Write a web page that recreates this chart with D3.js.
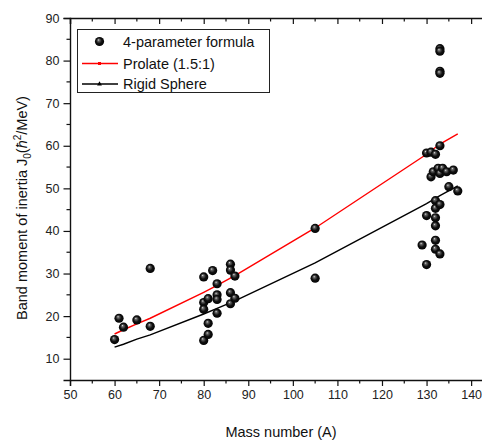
<!DOCTYPE html>
<html>
<head>
<meta charset="utf-8">
<script src="https://cdn.jsdelivr.net/npm/d3@7"></script>
<style>
  body { margin: 0; background: #fff; }
  svg { display: block; font-family: "Liberation Sans", Arial, sans-serif; }
</style>
</head>
<body>
<div class="chart"></div>
<script>
// 4-parameter formula points (mass number A, J0)
const fitA = [60, 61, 62, 65, 68, 68,
    80, 80, 80, 80, 81, 81, 81, 82, 83, 83, 83, 83, 86, 86, 86, 86, 87, 87,
    105, 105,
    129, 130, 130, 130, 131, 131, 131.5, 132, 132.6, 132, 132, 132, 132, 132, 132,
    133, 133, 133, 133, 133, 133, 133, 133, 133.6, 134.5, 135, 136, 137];
const fitJ = [14.5, 19.5, 17.4, 19.1, 31.2, 17.6,
    29.2, 23.2, 21.6, 14.3, 24.1, 18.3, 15.7, 30.7, 27.6, 25.0, 23.9, 20.7, 32.2, 30.8, 25.5, 22.9, 29.4, 24.2,
    40.6, 28.9,
    36.7, 32.1, 43.6, 58.3, 58.5, 52.7, 53.9, 58.0, 54.7, 47.1, 45.3, 43.1, 41.2, 37.8, 35.7,
    34.6, 60.0, 53.5, 46.2, 82.8, 82.2, 77.5, 77.0, 54.7, 53.9, 50.4, 54.3, 49.4];

// model curves
const lineA = [60, 62, 65, 68, 80, 83, 87, 105, 130, 133, 137];
const prolateJ = [15.8, 16.8, 18.2, 19.5, 25.6, 27.2, 29.5, 40.7, 58.0, 60.4, 62.8];
const sphereJ = [12.7, 13.4, 14.6, 15.6, 20.5, 21.8, 23.6, 32.5, 46.4, 48.3, 50.6];

const xTickValues = [50, 60, 70, 80, 90, 100, 110, 120, 130, 140];
const yTickValues = [10, 20, 30, 40, 50, 60, 70, 80, 90];

const w = 482;
const h = 442;

const xScale = d3.scaleLinear().domain([50, 150]).range([70, 515.7]);
const yScale = d3.scaleLinear().domain([5, 90]).range([380, 18]);

const svg = d3.select(".chart").append("svg")
    .attr("width", w)
    .attr("height", h);

const defs = svg.append("defs");
const grad = defs.append("radialGradient")
    .attr("id", "ball")
    .attr("cx", "50%").attr("cy", "50%").attr("r", "55%")
    .attr("fx", "38%").attr("fy", "32%");
grad.append("stop").attr("offset", "0%").attr("stop-color", "#e8e8e8");
grad.append("stop").attr("offset", "18%").attr("stop-color", "#6a6a6a");
grad.append("stop").attr("offset", "55%").attr("stop-color", "#111");
grad.append("stop").attr("offset", "100%").attr("stop-color", "#000");

// axes
const minorX = d3.range(55, 150, 10);
const minorY = d3.range(15, 90, 10);

const bottomAxis = svg.append("g")
    .attr("transform", "translate(0,380)")
    .call(d3.axisBottom(xScale).tickValues(xTickValues).tickSize(6).tickPadding(4).tickFormat(d3.format("d")));
bottomAxis.append("g").selectAll("line").data(minorX).enter().append("line")
    .attr("x1", d => xScale(d)).attr("x2", d => xScale(d))
    .attr("y1", 0).attr("y2", 3.5);

const leftAxis = svg.append("g")
    .attr("transform", "translate(70,0)")
    .call(d3.axisLeft(yScale).tickValues(yTickValues).tickSize(6.5).tickPadding(4).tickFormat(d3.format("d")));
leftAxis.append("g").selectAll("line").data(minorY).enter().append("line")
    .attr("y1", d => yScale(d)).attr("y2", d => yScale(d))
    .attr("x1", 0).attr("x2", -3.5);

const topAxis = svg.append("g")
    .attr("transform", "translate(0,18)")
    .call(d3.axisTop(xScale).tickValues(xTickValues).tickSize(-6).tickFormat(""));
topAxis.append("g").selectAll("line").data(minorX).enter().append("line")
    .attr("x1", d => xScale(d)).attr("x2", d => xScale(d))
    .attr("y1", 0).attr("y2", 3.5);

svg.selectAll(".domain")
    .attr("stroke", "#111")
    .attr("stroke-width", 1.4);
svg.selectAll(".tick line").attr("stroke", "#111").attr("stroke-width", 1.2);
svg.selectAll("g > g > line").attr("stroke", "#111").attr("stroke-width", 1.2);
svg.selectAll(".tick text")
    .attr("font-size", "12.5px")
    .attr("fill", "#222")
    .attr("font-family", "Liberation Sans, Arial, sans-serif");

// model lines
const lineGen = d3.line().x(d => xScale(d[0])).y(d => yScale(d[1]));

svg.append("path")
    .datum(lineA.map((a, i) => [a, prolateJ[i]]))
    .attr("d", lineGen)
    .attr("fill", "none")
    .attr("stroke", "#f00")
    .attr("stroke-width", 1.4);

svg.append("path")
    .datum(lineA.map((a, i) => [a, sphereJ[i]]))
    .attr("d", lineGen)
    .attr("fill", "none")
    .attr("stroke", "#000")
    .attr("stroke-width", 1.4);

// points
svg.append("g")
    .selectAll("circle")
    .data(fitA.map((a, i) => [a, fitJ[i]]))
    .enter()
    .append("circle")
    .attr("cx", d => xScale(d[0]))
    .attr("cy", d => yScale(d[1]))
    .attr("r", 4.6)
    .attr("fill", "url(#ball)");

// legend
const legend = svg.append("g");
legend.append("rect")
    .attr("x", 77.5).attr("y", 29.5)
    .attr("width", 192).attr("height", 63)
    .attr("fill", "#fff")
    .attr("stroke", "#222")
    .attr("stroke-width", 1);

legend.append("circle")
    .attr("cx", 99.5).attr("cy", 41.5).attr("r", 4.6)
    .attr("fill", "url(#ball)");

legend.append("line")
    .attr("x1", 82).attr("x2", 118).attr("y1", 63.5).attr("y2", 63.5)
    .attr("stroke", "#f00").attr("stroke-width", 1.4);
legend.append("rect")
    .attr("x", 98).attr("y", 62).attr("width", 3).attr("height", 3)
    .attr("fill", "#f00");

legend.append("line")
    .attr("x1", 82).attr("x2", 118).attr("y1", 84).attr("y2", 84)
    .attr("stroke", "#000").attr("stroke-width", 1.4);
legend.append("path")
    .attr("d", d3.symbol().type(d3.symbolTriangle).size(10))
    .attr("transform", "translate(99.5,84)")
    .attr("fill", "#000");

const legendLabels = ["4-parameter formula", "Prolate (1.5:1)", "Rigid Sphere"];
const legendY = [41.5, 63.5, 84];
legend.selectAll("text.lg")
    .data(legendLabels)
    .enter()
    .append("text")
    .attr("class", "lg")
    .attr("x", 123)
    .attr("y", (d, i) => legendY[i])
    .attr("dy", "0.36em")
    .attr("font-size", "14.5px")
    .attr("fill", "#111")
    .text(d => d);

// axis titles
svg.append("text")
    .attr("x", 281)
    .attr("y", 437)
    .attr("text-anchor", "middle")
    .attr("font-size", "14.5px")
    .attr("fill", "#111")
    .text("Mass number (A)");

const yTitle = svg.append("text")
    .attr("transform", "translate(27,208) rotate(-90)")
    .attr("text-anchor", "middle")
    .attr("font-size", "14.5px")
    .attr("fill", "#111");
yTitle.append("tspan").text("Band moment of inertia J");
yTitle.append("tspan").attr("font-size", "10px").attr("dy", "4").text("0");
yTitle.append("tspan").attr("dy", "-4").text("(");
yTitle.append("tspan").attr("font-style", "italic").text("ħ");
yTitle.append("tspan").attr("font-size", "10px").attr("dy", "-6").text("2");
yTitle.append("tspan").attr("dy", "6").text("/MeV)");
</script>
</body>
</html>
